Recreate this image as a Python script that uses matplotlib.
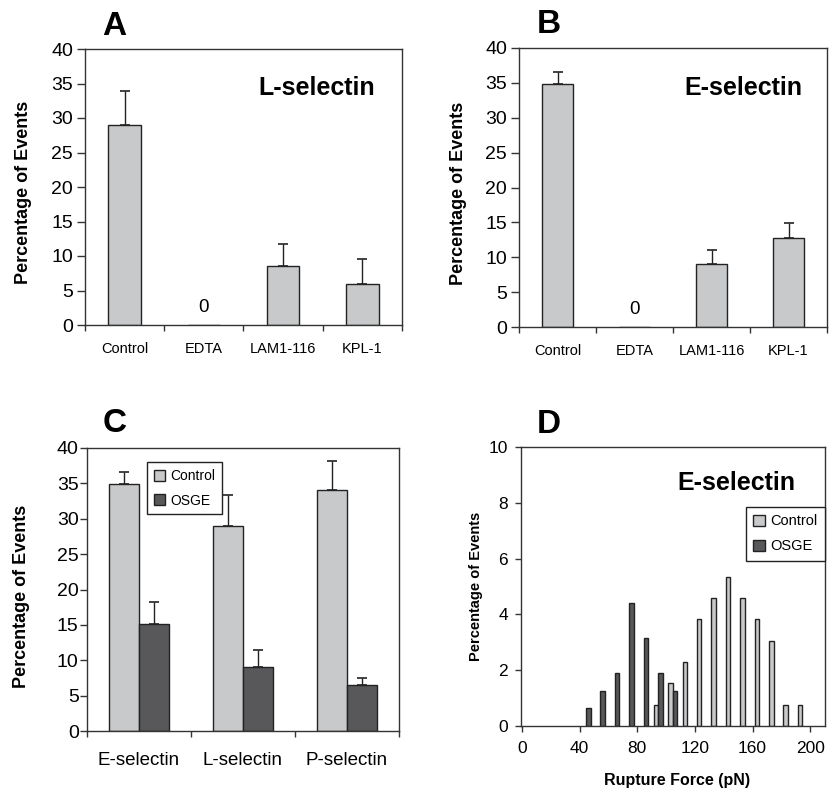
import numpy as np
import matplotlib.pyplot as plt

plt.rcParams['font.family'] = ['Liberation Sans', 'DejaVu Sans']

# panel A / B: single bars per treatment
treatments = ['Control', 'EDTA', 'LAM1-116', 'KPL-1']
l_sel = [29.0, 0.0, 8.6, 6.0]
l_sel_err = [4.9, 0.0, 3.2, 3.6]
e_sel = [34.9, 0.0, 9.1, 12.8]
e_sel_err = [1.7, 0.0, 1.9, 2.1]

# panel C: control vs OSGE
selectins = ['E-selectin', 'L-selectin', 'P-selectin']
ctrl_c = [34.9, 29.0, 34.1]
ctrl_c_err = [1.7, 4.4, 4.0]
osge_c = [15.1, 9.05, 6.5]
osge_c_err = [3.1, 2.45, 1.05]

# panel D: rupture force histogram (bin start, pN)
ctrl_bins = [90, 100, 110, 120, 130, 140, 150, 160, 170, 180, 190]
ctrl_hist = [0.76, 1.53, 2.29, 3.82, 4.58, 5.34, 4.58, 3.82, 3.05, 0.76, 0.76]
osge_bins = [40, 50, 60, 70, 80, 90, 100]
osge_hist = [0.63, 1.26, 1.89, 4.40, 3.14, 1.89, 1.26]

LIGHT = '#c8c9cb'
DARK = '#58585a'
EDGE = '#222222'
SPINE = '#333333'

fig = plt.figure(figsize=(8.35, 7.9), dpi=100)


def style_frame(ax):
    for s in ax.spines.values():
        s.set_color(SPINE)
        s.set_linewidth(1.0)


def category_axis(ax, labels, fs, pad):
    n = len(labels)
    ax.set_xlim(-0.5, n - 0.5)
    ax.set_xticks(np.arange(n + 1) - 0.5)
    ax.set_xticklabels([])
    ax.set_xticks(np.arange(n), minor=True)
    ax.set_xticklabels(labels, minor=True, fontsize=fs)
    ax.tick_params(axis='x', which='major', direction='out', length=4.5, width=1, color=SPINE)
    ax.tick_params(axis='x', which='minor', length=0, pad=pad)


def single_panel(rect, vals, errs, title, ylab_x):
    ax = fig.add_axes(rect)
    x = np.arange(len(treatments))
    ax.bar(x, vals, width=0.41, color=LIGHT, edgecolor=EDGE, linewidth=1.0, zorder=2)
    for xi, v, e in zip(x, vals, errs):
        if e > 0:
            ax.errorbar(xi, v, yerr=[[0], [e]], fmt='none', ecolor=EDGE,
                        elinewidth=1.0, capsize=3.8, capthick=1.2, zorder=3)
        else:
            ax.text(xi, 2.5, '0', ha='center', va='center', fontsize=13.5)
    ax.set_ylim(0, 40)
    ax.set_yticks(range(0, 41, 5))
    ax.tick_params(axis='y', direction='out', length=5.5, width=1, color=SPINE,
                   labelsize=14, pad=3)
    category_axis(ax, treatments, 10.5, 12)
    ax.set_ylabel('Percentage of Events', fontsize=13, fontweight='bold')
    ax.yaxis.set_label_coords(ylab_x, 0.48)
    ax.text(0.73, 0.858, title, transform=ax.transAxes, ha='center', va='center',
            fontsize=18, fontweight='bold')
    style_frame(ax)
    return ax


W, H = 835.0, 790.0


def rect(l, t, r, b):
    return [l / W, (H - b) / H, (r - l) / W, (b - t) / H]


single_panel(rect(85, 49, 402, 325), l_sel, l_sel_err, 'L-selectin', -0.167)
single_panel(rect(519, 48, 827, 327), e_sel, e_sel_err, 'E-selectin', -0.169)

# panel C
axc = fig.add_axes(rect(87, 448, 399, 731))
xc = np.arange(len(selectins))
bw = 0.285
axc.bar(xc - bw / 2, ctrl_c, width=bw, color=LIGHT, edgecolor=EDGE, linewidth=1.0,
        label='Control', zorder=2)
axc.bar(xc + bw / 2, osge_c, width=bw, color=DARK, edgecolor=EDGE, linewidth=1.0,
        label='OSGE', zorder=2)
axc.errorbar(xc - bw / 2, ctrl_c, yerr=[np.zeros(3), ctrl_c_err], fmt='none', ecolor=EDGE,
             elinewidth=1.0, capsize=3.8, capthick=1.2, zorder=3)
axc.errorbar(xc + bw / 2, osge_c, yerr=[np.zeros(3), osge_c_err], fmt='none', ecolor=EDGE,
             elinewidth=1.0, capsize=3.8, capthick=1.2, zorder=3)
axc.set_ylim(0, 40)
axc.set_yticks(range(0, 41, 5))
axc.tick_params(axis='y', direction='out', length=5, width=1, color=SPINE,
                labelsize=14, pad=1)
category_axis(axc, selectins, 13.5, 15)
axc.set_ylabel('Percentage of Events', fontsize=13, fontweight='bold')
axc.yaxis.set_label_coords(-0.183, 0.475)
leg = axc.legend(loc='upper left', bbox_to_anchor=(0.192, 0.95), fontsize=10,
                 fancybox=False, edgecolor=EDGE, framealpha=1, handlelength=0.8,
                 handleheight=0.8, handletextpad=0.4, labelspacing=0.75,
                 borderpad=0.5, borderaxespad=0)
leg.get_frame().set_linewidth(1.0)
style_frame(axc)

# panel D
axd = fig.add_axes(rect(521, 447, 825, 726))
hw = 3.1
axd.bar(np.array(ctrl_bins) + 4.5 - hw / 2, ctrl_hist, width=hw, color=LIGHT,
        edgecolor=EDGE, linewidth=1.0, label='Control', zorder=2)
axd.bar(np.array(osge_bins) + 4.5 + hw / 2, osge_hist, width=hw, color=DARK,
        edgecolor=EDGE, linewidth=1.0, label='OSGE', zorder=2)
axd.set_xlim(-0.6, 210.2)
axd.set_ylim(0, 10)
axd.set_xticks(range(0, 201, 40))
axd.set_yticks(range(0, 11, 2))
axd.tick_params(axis='x', direction='out', length=4.5, width=1, color=SPINE,
                labelsize=12.5, pad=6)
axd.tick_params(axis='y', direction='out', length=4.5, width=1, color=SPINE,
                labelsize=12.5, pad=5)
axd.set_xlabel('Rupture Force (pN)', fontsize=11.5, fontweight='bold')
axd.xaxis.set_label_coords(0.515, -0.168)
axd.set_ylabel('Percentage of Events', fontsize=10.5, fontweight='bold')
axd.yaxis.set_label_coords(-0.125, 0.5)
axd.text(0.71, 0.871, 'E-selectin', transform=axd.transAxes, ha='center', va='center',
         fontsize=18, fontweight='bold')
legd = axd.legend(loc='upper right', bbox_to_anchor=(1.0, 0.785), fontsize=10.5,
                  fancybox=False, edgecolor=EDGE, framealpha=1, handlelength=0.8,
                  handleheight=0.8, handletextpad=0.4, labelspacing=0.75,
                  borderpad=0.5, borderaxespad=0)
legd.get_frame().set_linewidth(1.0)
style_frame(axd)

# panel letters
for letter, (px, py) in zip('ABCD', [(102, 35), (537, 33), (103, 432), (537, 433)]):
    fig.text(px / W, 1 - py / H, letter, fontsize=24, fontweight='bold',
             ha='left', va='baseline')

fig.savefig('out.png', dpi=100)
